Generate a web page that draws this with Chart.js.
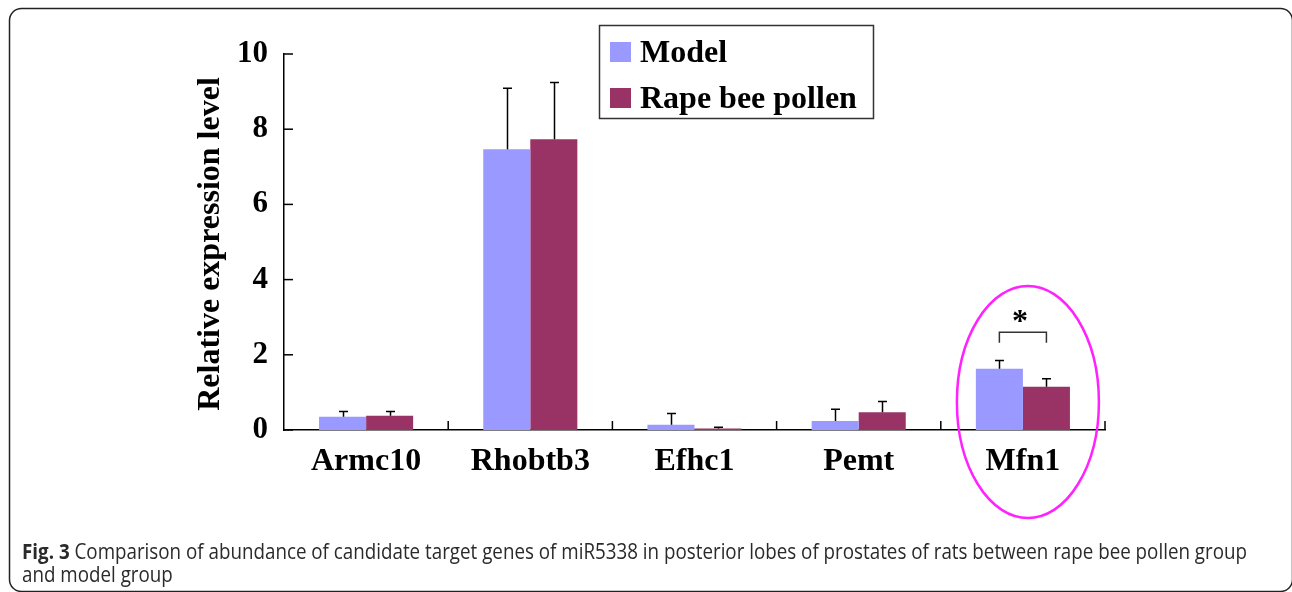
<!DOCTYPE html>
<html>
<head>
<meta charset="utf-8">
<script src="https://cdn.jsdelivr.net/npm/chart.js@4/dist/chart.umd.min.js"></script>
<style>
  html, body { margin: 0; padding: 0; background: #fff; }
  canvas { display: block; }
</style>
</head>
<body>
<canvas id="c" width="1292" height="592"></canvas>
<script>
// Relative expression of candidate target genes (mean + SD, upward error bars only)
const genes = ['Armc10', 'Rhobtb3', 'Efhc1', 'Pemt', 'Mfn1'];
const modelMeans = [0.35, 7.47, 0.14, 0.24, 1.63];
const modelErr = [0.14, 1.62, 0.30, 0.31, 0.22];
const pollenMeans = [0.38, 7.73, 0.04, 0.47, 1.15];
const pollenErr = [0.11, 1.51, 0.03, 0.29, 0.21];
const yTicks = [0, 2, 4, 6, 8, 10];
const seriesNames = ['Model', 'Rape bee pollen'];
const seriesColors = ['#9999ff', '#993366'];

const SERIF = '"Liberation Serif", "Times New Roman", serif';
const SANS = '"Open Sans", "Noto Sans", sans-serif';

// Error bars, inner tick marks, significance bracket and highlight ellipse
const overlayPlugin = {
  id: 'overlay',
  afterDatasetsDraw(chart) {
    const ctx = chart.ctx;
    const xs = chart.scales.x, ys = chart.scales.y;
    const area = chart.chartArea;
    const errs = [modelErr, pollenErr];
    const means = [modelMeans, pollenMeans];
    ctx.save();
    ctx.strokeStyle = '#000';
    ctx.lineWidth = 1.5;
    // error bars
    for (let d = 0; d < 2; d++) {
      const meta = chart.getDatasetMeta(d);
      meta.data.forEach((bar, i) => {
        const x = Math.round(bar.x) + 0.5;
        const y0 = ys.getPixelForValue(means[d][i]);
        const y1 = ys.getPixelForValue(means[d][i] + errs[d][i]);
        ctx.beginPath();
        ctx.moveTo(x, y0);
        ctx.lineTo(x, y1);
        ctx.moveTo(x - 4.5, y1);
        ctx.lineTo(x + 4.5, y1);
        ctx.stroke();
      });
    }
    // y ticks pointing inward
    yTicks.forEach(v => {
      const y = ys.getPixelForValue(v);
      ctx.beginPath();
      ctx.moveTo(area.left, y);
      ctx.lineTo(area.left + 9, y);
      ctx.stroke();
    });
    // category separators pointing upward
    const step = (area.right - area.left) / genes.length;
    for (let i = 1; i <= genes.length; i++) {
      const x = area.left + step * i;
      ctx.beginPath();
      ctx.moveTo(x, area.bottom);
      ctx.lineTo(x, area.bottom - 9);
      ctx.stroke();
    }
    // significance bracket for Mfn1
    const k = 4;
    const xa = chart.getDatasetMeta(0).data[k].x;
    const xb = chart.getDatasetMeta(1).data[k].x;
    const yTop = ys.getPixelForValue(2.6);
    ctx.strokeStyle = '#333';
    ctx.beginPath();
    ctx.moveTo(xa, yTop + 10.5);
    ctx.lineTo(xa, yTop);
    ctx.lineTo(xb, yTop);
    ctx.lineTo(xb, yTop + 10.5);
    ctx.stroke();
    ctx.fillStyle = '#000';
    ctx.font = 'bold 32px ' + SERIF;
    ctx.textAlign = 'center';
    ctx.textBaseline = 'alphabetic';
    ctx.fillText('*', (xa + xb) / 2 - 3, yTop - 1);
    // highlight ellipse
    const cx = xs.getPixelForValue(k) + 5;
    const cy = ys.getPixelForValue(0) - 28;
    ctx.strokeStyle = '#ff22ff';
    ctx.lineWidth = 2.5;
    ctx.beginPath();
    ctx.ellipse(cx, cy, 71, 116, 0, 0, Math.PI * 2);
    ctx.stroke();
    ctx.restore();
  },
  afterDraw(chart) {
    const ctx = chart.ctx;
    ctx.save();
    // figure frame
    ctx.strokeStyle = '#222';
    ctx.lineWidth = 1.5;
    ctx.beginPath();
    ctx.roundRect(9.5, 8.5, 1283, 583, 12);
    ctx.stroke();
    // y axis title
    ctx.fillStyle = '#000';
    ctx.font = 'bold 32px ' + SERIF;
    ctx.textAlign = 'center';
    ctx.textBaseline = 'middle';
    ctx.translate(211, 244);
    ctx.rotate(-Math.PI / 2);
    ctx.fillText('Relative expression level', 0, 0);
    ctx.setTransform(1, 0, 0, 1, 0, 0);
    // legend
    ctx.lineWidth = 1.5;
    ctx.strokeStyle = '#333';
    ctx.fillStyle = '#fff';
    ctx.beginPath();
    ctx.rect(599.5, 25.5, 274, 93);
    ctx.fill();
    ctx.stroke();
    ctx.font = 'bold 32px ' + SERIF;
    ctx.textAlign = 'left';
    ctx.textBaseline = 'alphabetic';
    const rows = [{ y: 42, base: 62 }, { y: 88, base: 108 }];
    seriesNames.forEach((name, i) => {
      ctx.fillStyle = seriesColors[i];
      ctx.fillRect(610, rows[i].y, 21, 20);
      ctx.fillStyle = '#000';
      ctx.fillText(name, 640, rows[i].base);
    });
    // caption
    const bold = 'Fig. 3';
    const rest = ' Comparison of abundance of candidate target genes of miR5338 in posterior lobes of prostates of rats between rape bee pollen group';
    const line2 = 'and model group';
    ctx.fillStyle = '#2a2a2a';
    ctx.font = 'bold 22px ' + SANS;
    const wb = ctx.measureText(bold).width;
    ctx.font = '22px ' + SANS;
    const wr = ctx.measureText(rest).width;
    const sx = (1247 - 22) / (wb + wr);
    ctx.setTransform(sx, 0, 0, 1, 22, 0);
    ctx.font = 'bold 22px ' + SANS;
    ctx.fillText(bold, 0, 559);
    ctx.font = '22px ' + SANS;
    ctx.fillText(rest, wb, 559);
    ctx.fillText(line2, 0, 582);
    ctx.restore();
  }
};

new Chart(document.getElementById('c'), {
  type: 'bar',
  data: {
    labels: genes,
    datasets: [
      { label: seriesNames[0], data: modelMeans, backgroundColor: seriesColors[0], borderWidth: 0 },
      { label: seriesNames[1], data: pollenMeans, backgroundColor: seriesColors[1], borderWidth: 0 }
    ]
  },
  options: {
    responsive: false,
    animation: false,
    devicePixelRatio: 1,
    layout: { padding: { left: 0, right: 187, top: 54, bottom: 0 } },
    datasets: { bar: { categoryPercentage: 0.573, barPercentage: 1.0 } },
    plugins: { legend: { display: false }, tooltip: { enabled: false } },
    scales: {
      x: {
        offset: true,
        grid: { display: false },
        border: { display: true, color: '#000', width: 1.5 },
        ticks: { color: '#000', font: { family: SERIF, weight: 'bold', size: 32 }, padding: 5, maxRotation: 0 },
        afterFit(s) { s.height = 162; }
      },
      y: {
        min: 0,
        max: 10,
        grid: { display: false },
        border: { display: true, color: '#000', width: 1.5 },
        ticks: { color: '#000', font: { family: SERIF, weight: 'bold', size: 31 }, padding: 8 },
        afterBuildTicks(s) { s.ticks = yTicks.map(v => ({ value: v })); },
        afterFit(s) { s.width = 284; }
      }
    }
  },
  plugins: [overlayPlugin]
});
</script>
</body>
</html>
